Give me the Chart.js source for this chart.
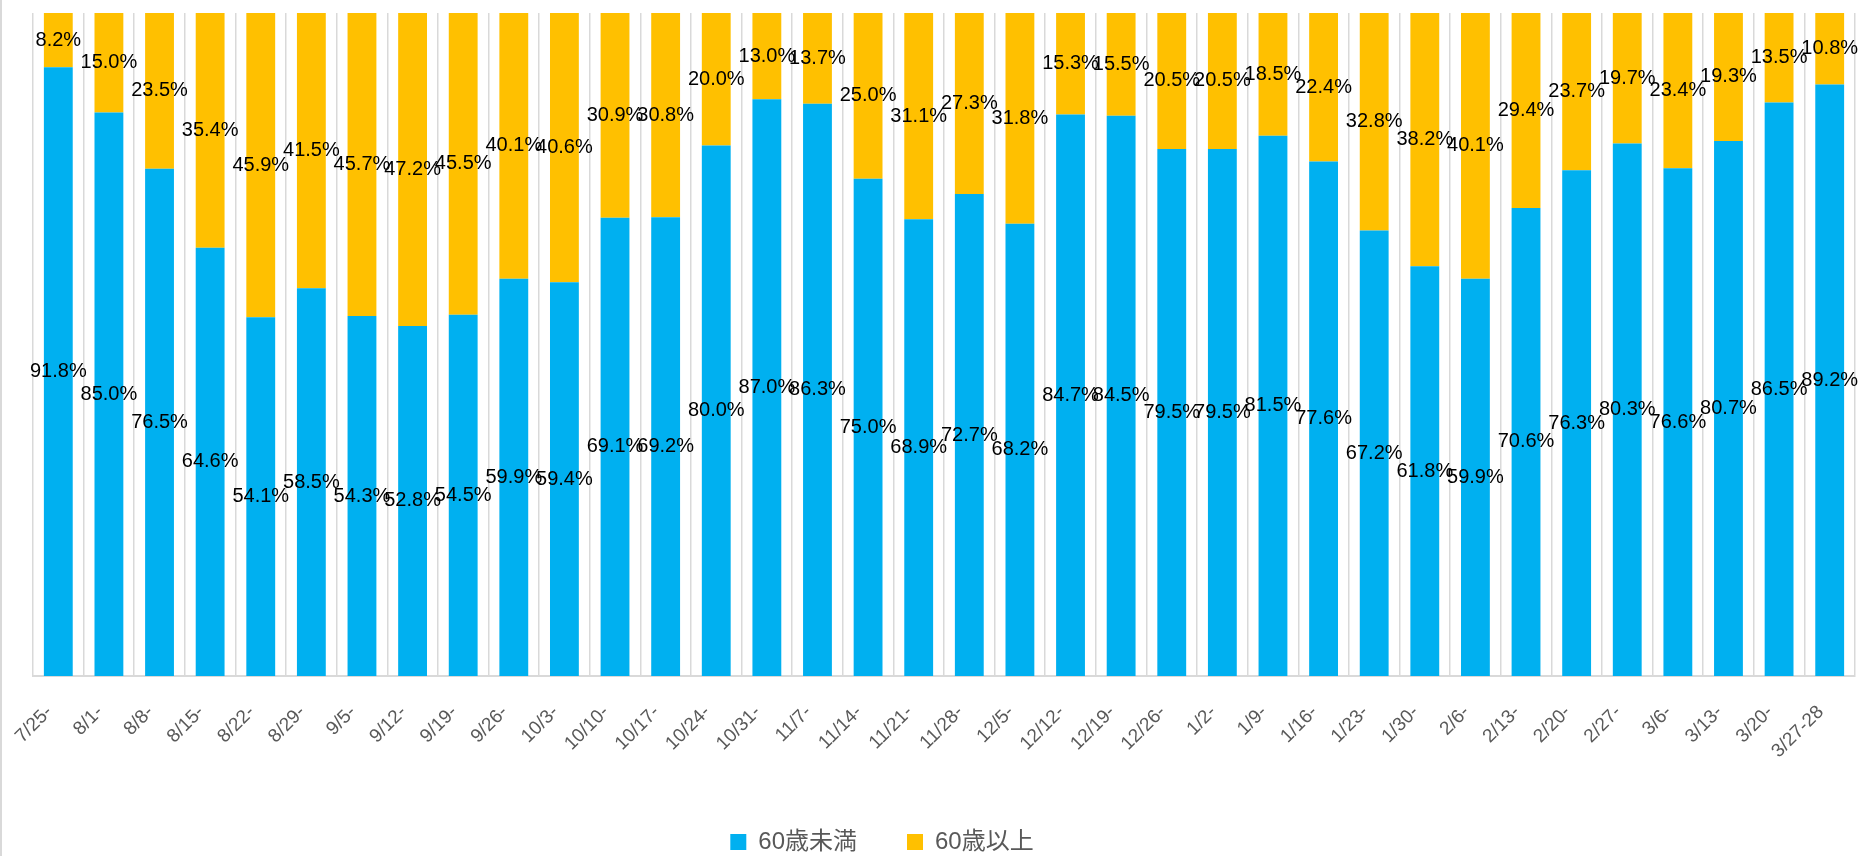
<!DOCTYPE html>
<html>
<head>
<meta charset="utf-8">
<script src="https://cdn.jsdelivr.net/npm/chart.js@4/dist/chart.umd.min.js"></script>
<style>
    html, body { margin: 0; padding: 0; background: #ffffff; }
    #wrap { width: 1861px; height: 856px; border-left: 2px solid #d9d9d9; }
</style>
</head>
<body>
<div id="wrap"><canvas id="ageChart" width="1861" height="856"></canvas></div>
<script>
var weeks = ["7/25-", "8/1-", "8/8-", "8/15-", "8/22-", "8/29-", "9/5-", "9/12-", "9/19-", "9/26-",
    "10/3-", "10/10-", "10/17-", "10/24-", "10/31-", "11/7-", "11/14-", "11/21-", "11/28-", "12/5-",
    "12/12-", "12/19-", "12/26-", "1/2-", "1/9-", "1/16-", "1/23-", "1/30-", "2/6-", "2/13-",
    "2/20-", "2/27-", "3/6-", "3/13-", "3/20-", "3/27-28"];

var under60 = [91.8, 85.0, 76.5, 64.6, 54.1, 58.5, 54.3, 52.8, 54.5, 59.9,
    59.4, 69.1, 69.2, 80.0, 87.0, 86.3, 75.0, 68.9, 72.7, 68.2,
    84.7, 84.5, 79.5, 79.5, 81.5, 77.6, 67.2, 61.8, 59.9, 70.6,
    76.3, 80.3, 76.6, 80.7, 86.5, 89.2];

var over60 = [8.2, 15.0, 23.5, 35.4, 45.9, 41.5, 45.7, 47.2, 45.5, 40.1,
    40.6, 30.9, 30.8, 20.0, 13.0, 13.7, 25.0, 31.1, 27.3, 31.8,
    15.3, 15.5, 20.5, 20.5, 18.5, 22.4, 32.8, 38.2, 40.1, 29.4,
    23.7, 19.7, 23.4, 19.3, 13.5, 10.8];

var seriesNames = ["60歳未満", "60歳以上"];

var fontFamily = "'Liberation Sans', 'Noto Sans CJK JP', sans-serif";

// draws the percentage in the middle of every segment
var valueLabels = {
    id: "valueLabels",
    afterDatasetsDraw: function (chart) {
        var ctx = chart.ctx;
        ctx.save();
        ctx.font = "20px " + fontFamily;
        ctx.fillStyle = "#000000";
        ctx.textAlign = "center";
        ctx.textBaseline = "middle";
        chart.data.datasets.forEach(function (dataset, i) {
            var meta = chart.getDatasetMeta(i);
            meta.data.forEach(function (bar, index) {
                var y = (bar.y + bar.base) / 2;
                ctx.fillText(dataset.data[index].toFixed(1) + "%", bar.x, y);
            });
        });
        ctx.restore();
    }
};

// the legend in the original sits a bit left of the middle
var legendShift = {
    id: "legendShift",
    afterLayout: function (chart) {
        chart.legend.left -= 62;
        chart.legend.right -= 62;
    }
};

var ageCanvas = document.getElementById("ageChart").getContext("2d");

var ageChart = new Chart(ageCanvas, {
    type: "bar",
    data: {
        labels: weeks,
        datasets: [
            {
                label: seriesNames[0],
                data: under60,
                backgroundColor: "#00B0F0",
                categoryPercentage: 1.0,
                barPercentage: 0.57
            },
            {
                label: seriesNames[1],
                data: over60,
                backgroundColor: "#FFC000",
                categoryPercentage: 1.0,
                barPercentage: 0.57
            }]
    },
    options: {
        responsive: false,
        animation: false,
        layout: {
            padding: { left: 31, right: 8, top: 13, bottom: -8 }
        },
        plugins: {
            tooltip: { enabled: false },
            legend: {
                position: "bottom",
                labels: {
                    boxWidth: 16,
                    boxHeight: 16,
                    padding: 50,
                    color: "#595959",
                    font: { size: 24, family: fontFamily }
                }
            }
        },
        scales: {
            x: {
                stacked: true,
                grid: {
                    offset: true,
                    color: "#d9d9d9",
                    lineWidth: 1.5,
                    drawTicks: false
                },
                border: { color: "#d9d9d9", width: 2 },
                ticks: {
                    color: "#595959",
                    font: { size: 19, family: fontFamily },
                    minRotation: 45,
                    maxRotation: 45,
                    padding: 25,
                    labelOffset: -9
                },
                afterFit: function (scale) {
                    scale.height = 104;
                    scale.paddingLeft = 0;
                    scale.paddingRight = 0;
                }
            },
            y: {
                stacked: true,
                display: false,
                min: 0,
                max: 100
            }
        }
    },
    plugins: [valueLabels, legendShift]
});
</script>
</body>
</html>
